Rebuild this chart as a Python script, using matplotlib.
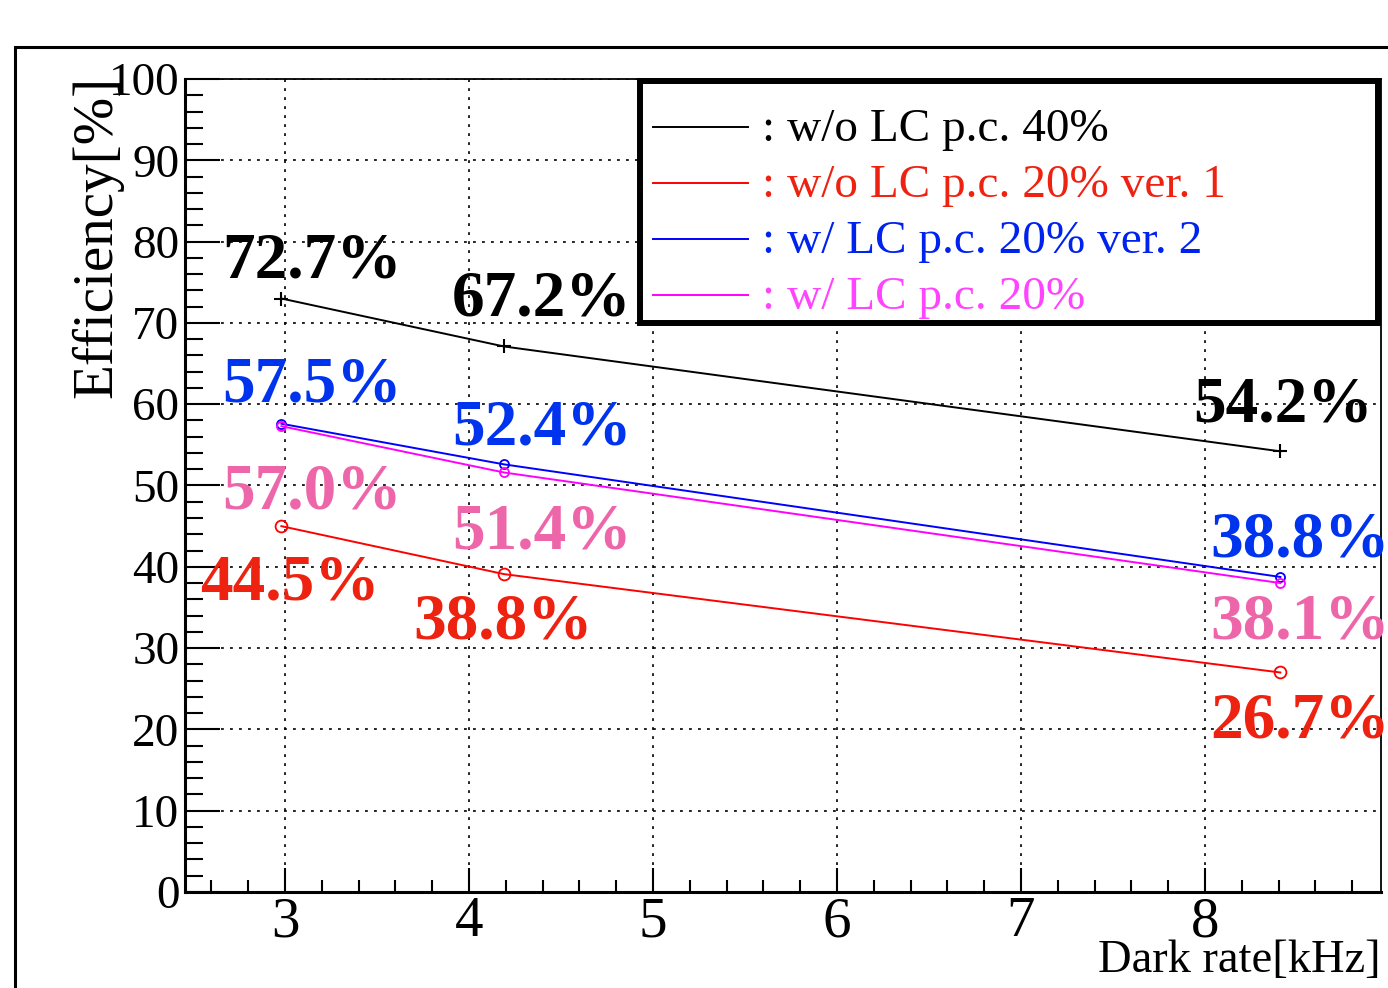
import matplotlib
matplotlib.use("Agg")
import matplotlib.pyplot as plt
from matplotlib.patches import Rectangle
from matplotlib.lines import Line2D
from matplotlib.ticker import MultipleLocator

plt.rcParams['font.family'] = ['Liberation Serif', 'DejaVu Serif']

# ---------------- data ----------------
dark_rate = [2.98, 4.19, 8.41]   # kHz

eff_wo_lc_40 = [73.0, 67.1, 54.2]
eff_wo_lc_20_v1 = [45.0, 39.1, 27.0]
eff_w_lc_20_v2 = [57.6, 52.6, 38.75]
eff_w_lc_20 = [57.3, 51.6, 38.0]

labels_wo_lc_40 = ["72.7%", "67.2%", "54.2%"]
labels_wo_lc_20_v1 = ["44.5%", "38.8%", "26.7%"]
labels_w_lc_20_v2 = ["57.5%", "52.4%", "38.8%"]
labels_w_lc_20 = ["57.0%", "51.4%", "38.1%"]

legend_labels = [": w/o LC p.c. 40%", ": w/o LC p.c. 20% ver. 1",
                 ": w/ LC p.c. 20% ver. 2", ": w/ LC p.c. 20%"]

x_ticks = [3, 4, 5, 6, 7, 8]
y_ticks = [0, 10, 20, 30, 40, 50, 60, 70, 80, 90, 100]

# ---------------- figure ----------------
W, H = 1388, 988
fig = plt.figure(figsize=(W / 100, H / 100), dpi=100)

def fx(px):
    return px / W

def fy(py):
    return 1 - py / H

# outer canvas frame
fig.patches.append(Rectangle((fx(15), fy(1100)), fx(1500), (1100 - 47) / H,
                             transform=fig.transFigure, fill=False,
                             edgecolor='black', lw=2.2, clip_on=False))

ax = fig.add_axes([fx(185), fy(892), fx(1381) - fx(185), fy(79) - fy(892)])
ax.set_xlim(2.456, 8.957)
ax.set_ylim(0, 100)

# series
line_kw = dict(lw=1.4, zorder=4)
ax.plot(dark_rate, eff_wo_lc_40, color='black', marker='+', ms=10, mew=1.5, **line_kw)
ax.plot(dark_rate, eff_wo_lc_20_v1, color='#ff0000', marker='o', ms=8.5, mfc='none', mew=1.3, **line_kw)
ax.plot(dark_rate, eff_w_lc_20_v2, color='#0000ff', marker='o', ms=6.5, mfc='none', mew=1.3, **line_kw)
ax.plot(dark_rate, eff_w_lc_20, color='#ff00ff', marker='o', ms=6.5, mfc='none', mew=1.3, **line_kw)

# value labels (left x, baseline y in data units)
lab_font = dict(fontsize=47, fontweight='bold', ha='left', va='baseline', zorder=5)
pos_black = [(2.658, 75.6), (3.908, 70.9), (7.935, 57.85)]
pos_blue = [(2.658, 60.3), (3.908, 55.0), (8.028, 41.3)]
pos_pink = [(2.658, 47.2), (3.908, 42.3), (8.028, 31.2)]
pos_red = [(2.538, 36.0), (3.696, 31.2), (8.028, 19.0)]
for labs, poss, col in [(labels_wo_lc_40, pos_black, 'black'),
                        (labels_w_lc_20_v2, pos_blue, '#0033ee'),
                        (labels_w_lc_20, pos_pink, '#ee66aa'),
                        (labels_wo_lc_20_v1, pos_red, '#ee2211')]:
    for t, (x, y) in zip(labs, poss):
        ax.text(x, y, t, color=col, clip_on=False, **lab_font)

# ticks & grid
ax.set_xticks(x_ticks)
ax.set_yticks(y_ticks)
ax.xaxis.set_minor_locator(MultipleLocator(0.2))
ax.yaxis.set_minor_locator(MultipleLocator(2))
ax.tick_params(axis='x', which='major', direction='in', length=17, width=1.5,
               labelsize=41, pad=3, top=False)
ax.tick_params(axis='x', which='minor', direction='in', length=9, width=1.5, top=False)
ax.tick_params(axis='y', which='major', direction='in', length=25, width=1.5,
               labelsize=34, pad=4, right=False)
ax.tick_params(axis='y', which='minor', direction='in', length=13, width=1.5, right=False)
ax.grid(True, which='major', color='black', lw=1.2, linestyle=(0, (1.7, 3.7)), zorder=1)
ax.set_axisbelow(True)

for s in ['left', 'bottom']:
    ax.spines[s].set_linewidth(2.2)
for s in ['top', 'right']:
    ax.spines[s].set_linewidth(1.3)

# axis titles
fig.text(fx(97), fy(76), "Efficiency[%]", rotation=90, fontsize=41,
         ha='center', va='top')
fig.text(fx(1381), fy(972), "Dark rate[kHz]", fontsize=33.5, ha='right', va='baseline')

# legend (drawn manually to match ROOT style)
fig.patches.append(Rectangle((fx(640), fy(323)), fx(1378) - fx(640), fy(81) - fy(323),
                             transform=fig.transFigure, facecolor='white',
                             edgecolor='black', lw=4.3, zorder=10))
leg_line_colors = ['black', '#ff0000', '#0000ff', '#ff00ff']
leg_text_colors = ['black', '#ee2211', '#0022ee', '#ff44ff']
row_y = [127, 183, 239, 295]
for lab, lc, tc, ry in zip(legend_labels, leg_line_colors, leg_text_colors, row_y):
    fig.lines.append(Line2D([fx(653), fx(748)], [fy(ry), fy(ry)], color=lc, lw=1.4,
                            transform=fig.transFigure, zorder=11))
    fig.text(fx(762), fy(ry + 14), lab, color=tc, fontsize=34, ha='left',
             va='baseline', zorder=12)

fig.savefig("out.png", dpi=100)
